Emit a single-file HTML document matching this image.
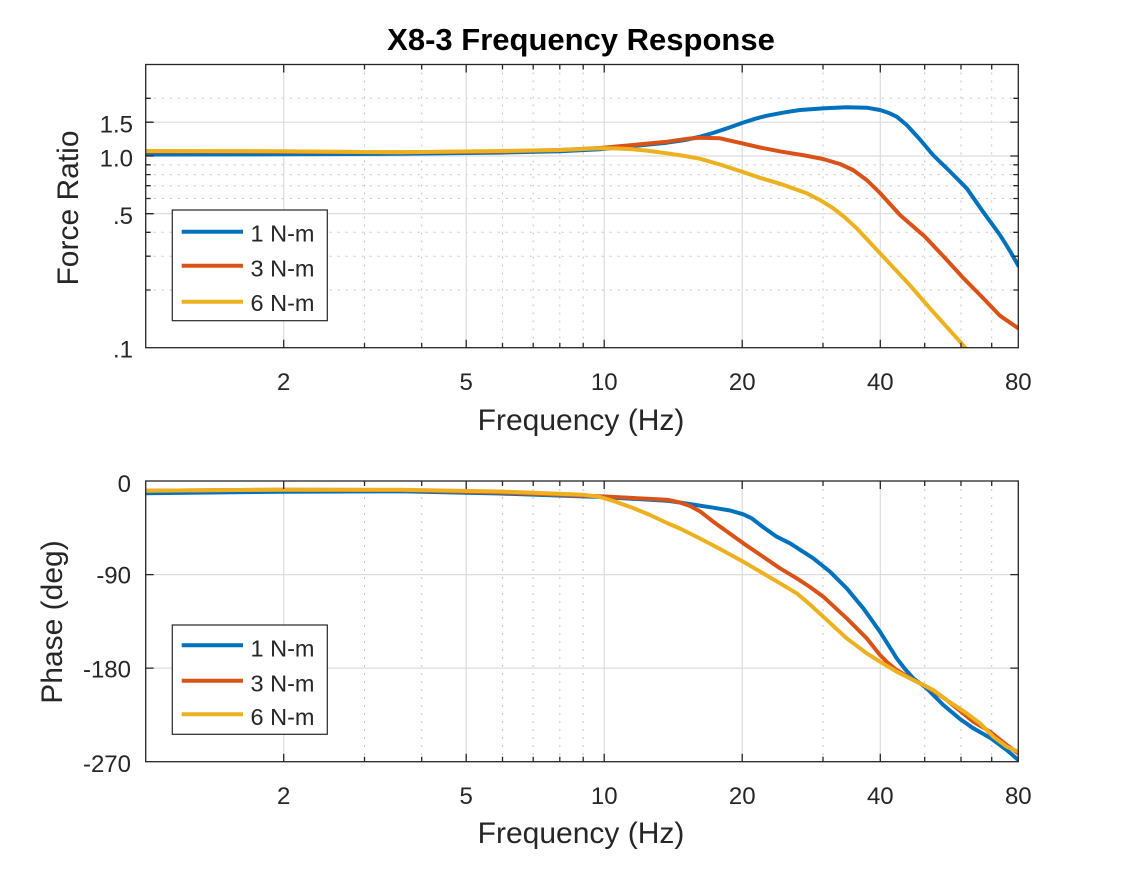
<!DOCTYPE html>
<html>
<head>
<meta charset="utf-8">
<style>
  html, body { margin: 0; padding: 0; background: #ffffff; }
  svg { display: block; }
  text { font-family: "Liberation Sans", Arial, sans-serif; fill: #262626; }
</style>
</head>
<body>
<svg width="1125" height="875" viewBox="0 0 1125 875" xmlns="http://www.w3.org/2000/svg">
  <defs>
    <clipPath id="c1"><rect x="145.7" y="64.5" width="872.6" height="283.2"/></clipPath>
    <clipPath id="c2"><rect x="145.7" y="481" width="872.6" height="280.7"/></clipPath>
  </defs>
  <rect width="1125" height="875" fill="#ffffff"/>

  <!-- Title -->
  <text x="581" y="50" text-anchor="middle" font-size="31" font-weight="bold" style="fill:#000">X8-3 Frequency Response</text>

  <!-- ================= TOP AXES ================= -->
  <rect x="145.7" y="64.5" width="872.6" height="283.2" fill="#ffffff"/>
  <g stroke="#c4c4c4" stroke-width="1" stroke-dasharray="2,6">
    <line x1="364.5" y1="64.5" x2="364.5" y2="347.7"/>
    <line x1="421.7" y1="64.5" x2="421.7" y2="347.7"/>
    <line x1="502.5" y1="64.5" x2="502.5" y2="347.7"/>
    <line x1="533.2" y1="64.5" x2="533.2" y2="347.7"/>
    <line x1="559.8" y1="64.5" x2="559.8" y2="347.7"/>
    <line x1="583.2" y1="64.5" x2="583.2" y2="347.7"/>
    <line x1="823.0" y1="64.5" x2="823.0" y2="347.7"/>
    <line x1="924.7" y1="64.5" x2="924.7" y2="347.7"/>
    <line x1="961.0" y1="64.5" x2="961.0" y2="347.7"/>
    <line x1="991.7" y1="64.5" x2="991.7" y2="347.7"/>
    <line x1="145.7" y1="290.0" x2="1018.3" y2="290.0"/>
    <line x1="145.7" y1="256.2" x2="1018.3" y2="256.2"/>
    <line x1="145.7" y1="232.3" x2="1018.3" y2="232.3"/>
    <line x1="145.7" y1="198.5" x2="1018.3" y2="198.5"/>
    <line x1="145.7" y1="185.7" x2="1018.3" y2="185.7"/>
    <line x1="145.7" y1="174.6" x2="1018.3" y2="174.6"/>
    <line x1="145.7" y1="164.8" x2="1018.3" y2="164.8"/>
    <line x1="145.7" y1="98.3" x2="1018.3" y2="98.3"/>
  </g>
  <g stroke="#dcdcdc" stroke-width="1.2">
    <line x1="283.7" y1="64.5" x2="283.7" y2="347.7"/>
    <line x1="466.2" y1="64.5" x2="466.2" y2="347.7"/>
    <line x1="604.2" y1="64.5" x2="604.2" y2="347.7"/>
    <line x1="742.2" y1="64.5" x2="742.2" y2="347.7"/>
    <line x1="880.3" y1="64.5" x2="880.3" y2="347.7"/>
    <line x1="145.7" y1="213.7" x2="1018.3" y2="213.7"/>
    <line x1="145.7" y1="156" x2="1018.3" y2="156"/>
    <line x1="145.7" y1="122.2" x2="1018.3" y2="122.2"/>
  </g>

  <g clip-path="url(#c1)" fill="none" stroke-width="4" stroke-linejoin="round" stroke-linecap="round">
    <polyline stroke="#0072BD" points="145.7,154.5 283,154.3 400,153.8 500,152.6 560,151.2 600,149.3 633,146 667,142.7 685,140 700,136.7 713,133 728,128 742,123 755,118.8 767,115.7 785,112.3 800,110 825,108.3 846.7,107.3 866.7,107.7 880,110 889,113 896.7,116.7 906.7,125 920,139.5 933,155 950,171.5 966.7,188.3 983,211.7 1000,235 1010,251 1018.3,265.7"/>
    <polyline stroke="#D95319" points="145.7,151.5 283,151.7 400,152.3 500,151.5 560,150 600,148 633,145 667,141.7 690,138.5 700,137.7 720,138.3 742,143.3 760,147.5 781.7,151.7 805,155.5 823,159 840,164 853,170 866.7,180 880,193 900,215 925,236.7 945,258 963,277.7 983,298 1000,315.7 1018.3,328.3"/>
    <polyline stroke="#EDB120" points="145.7,151 283,151.2 400,152.3 500,151 560,150 600,148.3 615,148.4 633,149.3 650,151 667,153.3 685,156 700,158.8 720,164.5 742,171.7 760,177.8 781.7,184.3 806.7,193.3 820,200 833.3,208.3 845,217.5 856.7,228.3 880,253.3 906.7,281.7 933,311.7 960,341.7 966.7,349.5"/>
  </g>

  <g stroke="#262626" stroke-width="1.3" fill="none">
    <rect x="145.7" y="64.5" width="872.6" height="283.2"/>
    <path d="M283.7,347.7v-8M466.2,347.7v-8M604.2,347.7v-8M742.2,347.7v-8M880.3,347.7v-8
             M283.7,64.5v8M466.2,64.5v8M604.2,64.5v8M742.2,64.5v8M880.3,64.5v8"/>
    <path d="M364.5,347.7v-5M421.7,347.7v-5M502.5,347.7v-5M533.2,347.7v-5M559.8,347.7v-5M583.2,347.7v-5M823,347.7v-5M924.7,347.7v-5M961,347.7v-5M991.7,347.7v-5
             M364.5,64.5v5M421.7,64.5v5M502.5,64.5v5M533.2,64.5v5M559.8,64.5v5M583.2,64.5v5M823,64.5v5M924.7,64.5v5M961,64.5v5M991.7,64.5v5"/>
    <path d="M145.7,213.7h8M145.7,156h8M145.7,122.2h8M1018.3,213.7h-8M1018.3,156h-8M1018.3,122.2h-8"/>
    <path d="M145.7,290h5M145.7,256.2h5M145.7,232.3h5M145.7,198.5h5M145.7,185.7h5M145.7,174.6h5M145.7,164.8h5M145.7,98.3h5
             M1018.3,290h-5M1018.3,256.2h-5M1018.3,232.3h-5M1018.3,198.5h-5M1018.3,185.7h-5M1018.3,174.6h-5M1018.3,164.8h-5M1018.3,98.3h-5"/>
  </g>

  <g font-size="24" text-anchor="middle">
    <text x="283.7" y="390">2</text>
    <text x="466.2" y="390">5</text>
    <text x="604.2" y="390">10</text>
    <text x="742.2" y="390">20</text>
    <text x="880.3" y="390">40</text>
    <text x="1018.3" y="390">80</text>
  </g>
  <g font-size="24" text-anchor="end">
    <text x="133" y="357.5">.1</text>
    <text x="133" y="224">.5</text>
    <text x="133" y="166.5">1.0</text>
    <text x="133" y="132.5">1.5</text>
  </g>
  <text x="581" y="430" text-anchor="middle" font-size="30">Frequency (Hz)</text>
  <text transform="translate(78,208) rotate(-90)" text-anchor="middle" font-size="30">Force Ratio</text>

  <rect x="172.3" y="210" width="155" height="110.7" fill="#ffffff" stroke="#262626" stroke-width="1.2"/>
  <g stroke-width="4">
    <line x1="181.7" y1="231.7" x2="243" y2="231.7" stroke="#0072BD"/>
    <line x1="181.7" y1="265.7" x2="243" y2="265.7" stroke="#D95319"/>
    <line x1="181.7" y1="301.7" x2="243" y2="301.7" stroke="#EDB120"/>
  </g>
  <g font-size="23.5">
    <text x="250.5" y="241.5">1 N-m</text>
    <text x="250.5" y="276.5">3 N-m</text>
    <text x="250.5" y="311">6 N-m</text>
  </g>

  <!-- ================= BOTTOM AXES ================= -->
  <rect x="145.7" y="481" width="872.6" height="280.7" fill="#ffffff"/>
  <g stroke="#c4c4c4" stroke-width="1" stroke-dasharray="2,6">
    <line x1="364.5" y1="481" x2="364.5" y2="761.7"/>
    <line x1="421.7" y1="481" x2="421.7" y2="761.7"/>
    <line x1="502.5" y1="481" x2="502.5" y2="761.7"/>
    <line x1="533.2" y1="481" x2="533.2" y2="761.7"/>
    <line x1="559.8" y1="481" x2="559.8" y2="761.7"/>
    <line x1="583.2" y1="481" x2="583.2" y2="761.7"/>
    <line x1="823.0" y1="481" x2="823.0" y2="761.7"/>
    <line x1="924.7" y1="481" x2="924.7" y2="761.7"/>
    <line x1="961.0" y1="481" x2="961.0" y2="761.7"/>
    <line x1="991.7" y1="481" x2="991.7" y2="761.7"/>
  </g>
  <g stroke="#dcdcdc" stroke-width="1.2">
    <line x1="283.7" y1="481" x2="283.7" y2="761.7"/>
    <line x1="466.2" y1="481" x2="466.2" y2="761.7"/>
    <line x1="604.2" y1="481" x2="604.2" y2="761.7"/>
    <line x1="742.2" y1="481" x2="742.2" y2="761.7"/>
    <line x1="880.3" y1="481" x2="880.3" y2="761.7"/>
    <line x1="145.7" y1="574.6" x2="1018.3" y2="574.6"/>
    <line x1="145.7" y1="668.1" x2="1018.3" y2="668.1"/>
  </g>

  <g clip-path="url(#c2)" fill="none" stroke-width="4" stroke-linejoin="round" stroke-linecap="round">
    <polyline stroke="#0072BD" points="145.7,493.3 283,491.7 400,491.3 500,493.5 600,497 667,500.7 683,503 713.3,507.7 730,510.5 743.3,514.3 751.7,518.3 763,527 776.7,536.7 790,543.3 813.3,558.3 830,571.7 846.7,588.3 863.3,608.3 880,631.7 896.7,658.3 905,669 913.3,678.3 926.7,688.3 943.3,705 960,719 973.3,728.3 990,737.7 1006.7,750 1018.3,760"/>
    <polyline stroke="#D95319" points="145.7,490.7 283,489.7 400,490 500,492.5 600,496.3 667,499.7 680,502.5 690,506 700,511.3 713.3,521.7 743.3,543.3 762,556 780,568.3 796.7,578.3 810,587 823.3,596.7 846.7,618.3 866.7,638.3 880,655 888,663 896.7,670 913.3,680 926.7,686.7 946.7,700 973.3,721.7 990,731.7 1006.7,745 1018.3,753.3"/>
    <polyline stroke="#EDB120" points="145.7,490.7 283,489.7 400,489.7 500,491.5 583,494.7 600,497 615,501.5 633,508 650,515 667,523 680,528.5 700,538.5 720,549 743.3,561.7 780,583.3 796.7,593.3 810,604.5 823.3,616.7 846.7,638.3 866.7,653.3 880,661.7 896.7,671.7 913.3,680 933.3,690 946.7,700 966.7,713.3 980,723.3 993.3,736.7 1006.7,746.7 1018.3,751.7"/>
  </g>

  <g stroke="#262626" stroke-width="1.3" fill="none">
    <rect x="145.7" y="481" width="872.6" height="280.7"/>
    <path d="M283.7,761.7v-8M466.2,761.7v-8M604.2,761.7v-8M742.2,761.7v-8M880.3,761.7v-8
             M283.7,481v8M466.2,481v8M604.2,481v8M742.2,481v8M880.3,481v8"/>
    <path d="M364.5,761.7v-5M421.7,761.7v-5M502.5,761.7v-5M533.2,761.7v-5M559.8,761.7v-5M583.2,761.7v-5M823,761.7v-5M924.7,761.7v-5M961,761.7v-5M991.7,761.7v-5
             M364.5,481v5M421.7,481v5M502.5,481v5M533.2,481v5M559.8,481v5M583.2,481v5M823,481v5M924.7,481v5M961,481v5M991.7,481v5"/>
    <path d="M145.7,574.6h8M145.7,668.1h8M1018.3,574.6h-8M1018.3,668.1h-8"/>
  </g>

  <g font-size="24" text-anchor="middle">
    <text x="283.7" y="804">2</text>
    <text x="466.2" y="804">5</text>
    <text x="604.2" y="804">10</text>
    <text x="742.2" y="804">20</text>
    <text x="880.3" y="804">40</text>
    <text x="1018.3" y="804">80</text>
  </g>
  <g font-size="24" text-anchor="end">
    <text x="131" y="492">0</text>
    <text x="131" y="583.5">-90</text>
    <text x="131" y="677.5">-180</text>
    <text x="131" y="772">-270</text>
  </g>
  <text x="581" y="843" text-anchor="middle" font-size="30">Frequency (Hz)</text>
  <text transform="translate(62,622) rotate(-90)" text-anchor="middle" font-size="30">Phase (deg)</text>

  <rect x="172.3" y="625" width="155" height="109.3" fill="#ffffff" stroke="#262626" stroke-width="1.2"/>
  <g stroke-width="4">
    <line x1="181.7" y1="645.3" x2="243" y2="645.3" stroke="#0072BD"/>
    <line x1="181.7" y1="680.7" x2="243" y2="680.7" stroke="#D95319"/>
    <line x1="181.7" y1="714.3" x2="243" y2="714.3" stroke="#EDB120"/>
  </g>
  <g font-size="23.5">
    <text x="250.5" y="656.5">1 N-m</text>
    <text x="250.5" y="691.5">3 N-m</text>
    <text x="250.5" y="725">6 N-m</text>
  </g>
</svg>
</body>
</html>
